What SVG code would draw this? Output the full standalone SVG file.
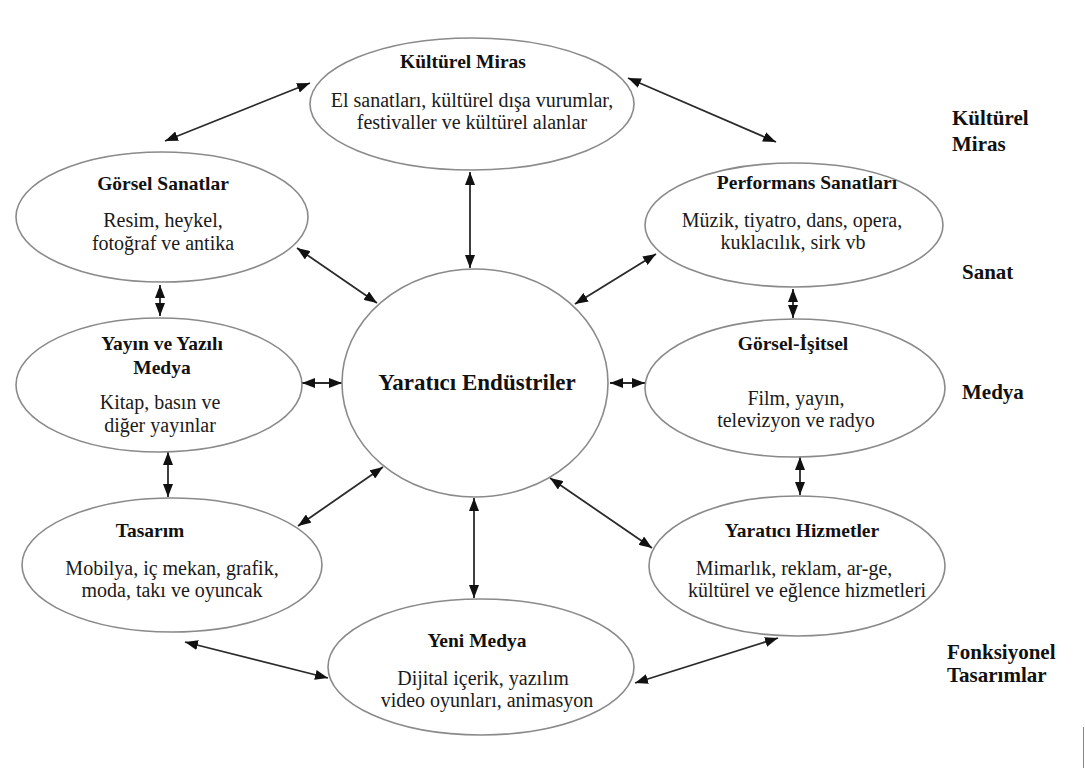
<svg xmlns="http://www.w3.org/2000/svg" width="1085" height="768" viewBox="0 0 1085 768">
<defs>
<marker id="ah" markerUnits="userSpaceOnUse" markerWidth="14" markerHeight="10" refX="13" refY="5" orient="auto-start-reverse">
<path d="M0,0 L13,5 L0,10 Z" fill="#111"/>
</marker>
<style>
.n{fill:#fff;stroke:#8a8a8a;stroke-width:1.6}
.t{font-family:"Liberation Serif","Times New Roman",serif;font-weight:bold;font-size:19.5px;fill:#111;text-anchor:middle}
.b{font-family:"Liberation Serif","Times New Roman",serif;font-size:20px;fill:#1a1a1a;text-anchor:middle}
.s{font-family:"Liberation Serif","Times New Roman",serif;font-weight:bold;font-size:21px;fill:#111}
.c line{stroke:#2a2a2a;stroke-width:1.8;marker-start:url(#ah);marker-end:url(#ah)}
</style>
</defs>
<rect width="1085" height="768" fill="#fff"/>
<g id="connectors" class="c">
<line x1="310" y1="83" x2="165" y2="141"/>
<line x1="628" y1="78" x2="776" y2="142"/>
<line x1="470" y1="172" x2="470" y2="268"/>
<line x1="297" y1="248" x2="377" y2="303"/>
<line x1="656" y1="254" x2="575" y2="304"/>
<line x1="160" y1="285" x2="160" y2="316"/>
<line x1="793" y1="289" x2="793" y2="318"/>
<line x1="302" y1="383" x2="342" y2="383"/>
<line x1="610" y1="383" x2="645" y2="383"/>
<line x1="168" y1="452" x2="168" y2="497"/>
<line x1="800" y1="457" x2="800" y2="495"/>
<line x1="298" y1="526" x2="383" y2="467"/>
<line x1="652" y1="548" x2="550" y2="478"/>
<line x1="474" y1="498" x2="474" y2="598"/>
<line x1="185" y1="642" x2="328" y2="678"/>
<line x1="778" y1="638" x2="635" y2="683"/>
</g>
<g id="kulturel-miras">
<ellipse class="n" cx="472" cy="104" rx="162" ry="66"/>
<text class="t" x="463" y="68">Kültürel Miras</text>
<text class="b" x="472" y="107">El sanatları, kültürel dışa vurumlar,</text>
<text class="b" x="472" y="129">festivaller ve kültürel alanlar</text>
</g>
<g id="gorsel-sanatlar">
<ellipse class="n" cx="162" cy="217" rx="146" ry="65"/>
<text class="t" x="163" y="190">Görsel Sanatlar</text>
<text class="b" x="163" y="227">Resim, heykel,</text>
<text class="b" x="163" y="250">fotoğraf ve antika</text>
</g>
<g id="performans-sanatlari">
<ellipse class="n" cx="794" cy="225" rx="149" ry="62"/>
<text class="t" x="807" y="189">Performans Sanatları</text>
<text class="b" x="792" y="227">Müzik, tiyatro, dans, opera,</text>
<text class="b" x="793" y="249">kuklacılık, sirk vb</text>
</g>
<g id="yayin-yazili-medya">
<ellipse class="n" cx="159" cy="385" rx="143" ry="67"/>
<text class="t" x="162" y="350">Yayın ve Yazılı</text>
<text class="t" x="162" y="374">Medya</text>
<text class="b" x="160" y="409">Kitap, basın ve</text>
<text class="b" x="160" y="432">diğer yayınlar</text>
</g>
<g id="yaratici-endustriler">
<ellipse class="n" cx="475" cy="383" rx="133" ry="114"/>
<text class="t" x="477" y="390" style="font-size:23px">Yaratıcı Endüstriler</text>
</g>
<g id="gorsel-isitsel">
<ellipse class="n" cx="795" cy="388" rx="150" ry="69"/>
<text class="t" x="793" y="350">Görsel-İşitsel</text>
<text class="b" x="796" y="405">Film, yayın,</text>
<text class="b" x="796" y="427">televizyon ve radyo</text>
</g>
<g id="tasarim">
<ellipse class="n" cx="172" cy="565" rx="150" ry="67"/>
<text class="t" x="150" y="537">Tasarım</text>
<text class="b" x="172" y="575">Mobilya, iç mekan, grafik,</text>
<text class="b" x="172" y="597">moda, takı ve oyuncak</text>
</g>
<g id="yaratici-hizmetler">
<ellipse class="n" cx="797" cy="566" rx="148" ry="70"/>
<text class="t" x="802" y="537">Yaratıcı Hizmetler</text>
<text class="b" x="794" y="575">Mimarlık, reklam, ar-ge,</text>
<text class="b" x="807" y="597">kültürel ve eğlence hizmetleri</text>
</g>
<g id="yeni-medya">
<ellipse class="n" cx="481" cy="667" rx="153" ry="68"/>
<text class="t" x="477" y="647">Yeni Medya</text>
<text class="b" x="483" y="685">Dijital içerik, yazılım</text>
<text class="b" x="487" y="707">video oyunları, animasyon</text>
</g>
<g id="side-labels">
<text class="s" x="952" y="125">Kültürel</text>
<text class="s" x="952" y="151">Miras</text>
<text class="s" x="962" y="279">Sanat</text>
<text class="s" x="962" y="399">Medya</text>
<text class="s" x="947" y="659">Fonksiyonel</text>
<text class="s" x="947" y="682">Tasarımlar</text>
</g>
<line x1="1083.5" y1="727" x2="1083.5" y2="768" stroke="#888" stroke-width="1"/>
</svg>
